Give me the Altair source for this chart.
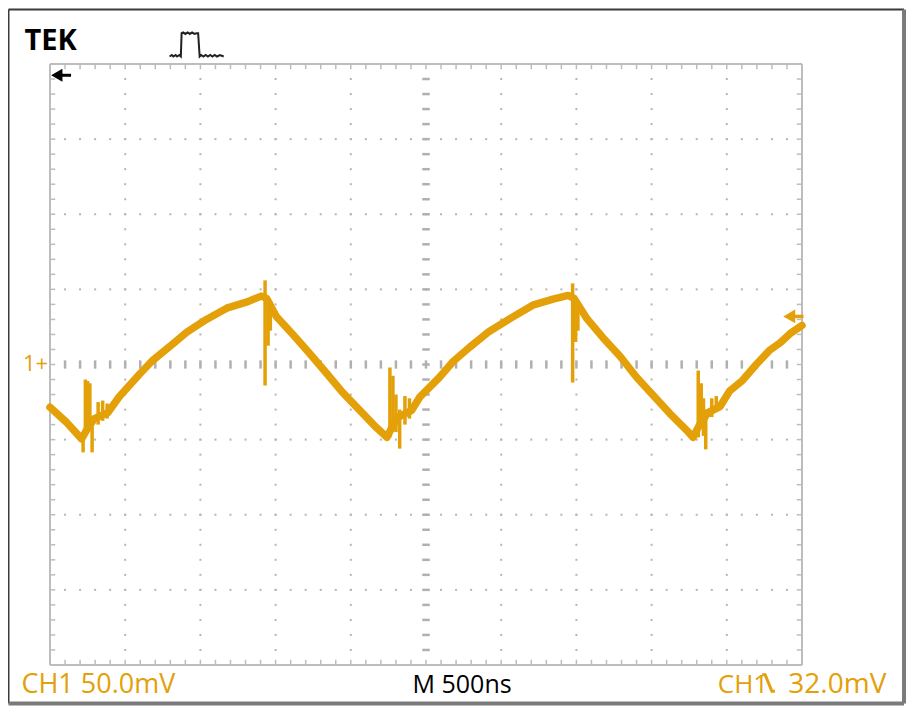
import altair as alt
import pandas as pd
import numpy as np

# ---- waveform (time in divisions 0..10 of 500 ns, voltage in divisions of 50 mV) ----
trace_t = [0.00, 0.21, 0.42, 0.50, 0.59, 0.77, 0.92, 1.19, 1.36, 1.63, 1.82, 2.08, 2.35, 2.61, 2.81, 2.88,
           3.01, 3.23, 3.45, 3.68, 3.89, 4.12, 4.34, 4.48, 4.56, 4.65, 4.81, 4.92, 5.18, 5.36, 5.58, 5.84,
           6.15, 6.42, 6.69, 6.89, 6.97, 7.14, 7.35, 7.58, 7.80, 8.02, 8.24, 8.47, 8.55, 8.64, 8.75, 8.91,
           9.04, 9.21, 9.40, 9.57, 9.71, 9.84, 10.00]
trace_v = [-0.57, -0.76, -0.99, -0.85, -0.72, -0.64, -0.43, -0.13, 0.05, 0.27, 0.43, 0.60, 0.75, 0.83, 0.91, 0.88,
           0.64, 0.40, 0.15, -0.12, -0.37, -0.61, -0.84, -0.97, -0.81, -0.69, -0.61, -0.43, -0.17, 0.04, 0.23, 0.44,
           0.63, 0.79, 0.87, 0.92, 0.88, 0.61, 0.36, 0.11, -0.17, -0.41, -0.65, -0.88, -0.97, -0.80, -0.64, -0.56,
           -0.35, -0.21, 0.01, 0.19, 0.29, 0.41, 0.52]

# switching glitches: time, top, bottom
glitch_t = [0.44, 0.47, 0.50, 0.53, 0.56, 0.64, 0.70, 0.76, 2.86, 2.90, 2.93, 4.52, 4.56, 4.60, 4.65, 4.72, 4.78,
            6.95, 6.99, 7.02, 8.62, 8.66, 8.69, 8.72, 8.80, 8.86]
glitch_top = [-0.99, -0.20, -0.22, -0.25, -0.70, -0.50, -0.48, -0.52, 1.12, 0.88, 0.80, -0.04, -0.15, -0.40,
              -0.60, -0.42, -0.45, 1.08, 0.90, 0.80, -0.08, -0.25, -0.45, -0.60, -0.45, -0.42]
glitch_bot = [-1.17, -0.90, -0.88, -0.85, -1.17, -0.80, -0.75, -0.72, -0.28, 0.25, 0.45, -0.97, -0.85, -0.90,
              -1.12, -0.80, -0.72, -0.24, 0.30, 0.45, -0.97, -0.85, -0.95, -1.13, -0.70, -0.62]

# pulse icon next to TEK
icon_t = [1.59, 1.62, 1.64, 1.67, 1.69, 1.72, 1.74, 1.75, 1.77, 1.80, 1.83, 1.86, 1.89, 1.92, 1.95, 1.97,
          1.99, 2.01, 2.04, 2.07, 2.10, 2.13, 2.16, 2.19, 2.22, 2.26, 2.31]
icon_v = [4.10, 4.12, 4.10, 4.12, 4.10, 4.12, 4.10, 4.41, 4.42, 4.40, 4.42, 4.40, 4.42, 4.40, 4.41, 4.41,
          4.10, 4.12, 4.10, 4.12, 4.10, 4.12, 4.10, 4.12, 4.10, 4.12, 4.10]

# trigger slope glyph
slope_t = [9.47, 9.51, 9.60, 9.64]
slope_v = [-4.13, -4.13, -4.35, -4.35]

ORANGE = "#E3A008"
GRID = "#bdbdbd"

X = alt.Scale(domain=[0, 10], nice=False, zero=False)
Y = alt.Scale(domain=[-4, 4], nice=False, zero=False)


def xe(f="t"):
    return alt.X(f, type="quantitative", scale=X, axis=None)


def ye(f="v"):
    return alt.Y(f, type="quantitative", scale=Y, axis=None)


def rules(df, color, width):
    return alt.Chart(df).mark_rule(color=color, strokeWidth=width).encode(
        x=xe("t"), x2="t2", y=ye("v"), y2="v2")


layers = []

# outer frame
fl, fr, ft, fb = -0.552, 11.357, 4.727, -4.514
layers.append(rules(pd.DataFrame({"t": [fl, fl], "t2": [fl, fr], "v": [fb, ft], "v2": [ft, ft]}), "#3a3a3a", 2))
layers.append(rules(pd.DataFrame({"t": [fr, fl], "t2": [fr, fr], "v": [fb, fb], "v2": [ft, fb]}), "#7a7a7a", 4))

# graticule border
layers.append(rules(pd.DataFrame({"t": [0, 10, 0, 0], "t2": [0, 10, 10, 10],
                                  "v": [-4, -4, 4, -4], "v2": [4, 4, 4, -4]}), GRID, 2))

# edge ticks
tt = np.round(np.arange(0.2, 9.9, 0.2), 2)
vv = np.round(np.arange(-3.8, 3.9, 0.2), 2)
edge = pd.concat([
    pd.DataFrame({"t": tt, "t2": tt, "v": 4.0, "v2": 3.93}),
    pd.DataFrame({"t": tt, "t2": tt, "v": -4.0, "v2": -3.93}),
    pd.DataFrame({"t": 0.0, "t2": 0.07, "v": vv, "v2": vv}),
    pd.DataFrame({"t": 10.0, "t2": 9.93, "v": vv, "v2": vv}),
])
layers.append(rules(edge, GRID, 1.5))

# dotted grid
dots = []
for g in [1, 2, 3, 4, 6, 7, 8, 9]:
    dots.append(pd.DataFrame({"t": g, "v": vv}))
for g in [-3, -2, -1, 1, 2, 3]:
    dots.append(pd.DataFrame({"t": tt, "v": g}))
dots = pd.concat(dots)
layers.append(alt.Chart(dots).mark_square(size=4, color="#b5b5b5", opacity=1).encode(x=xe(), y=ye()))

# centre lines with dashes
cv = pd.DataFrame({"t": 4.95, "t2": 5.05, "v": vv, "v2": vv})
ch = pd.DataFrame({"t": tt, "t2": tt, "v": -0.055, "v2": 0.055})
layers.append(rules(pd.concat([cv, ch]), "#b0b0b0", 2.5))

# waveform
wave = pd.DataFrame({"t": trace_t, "v": trace_v, "i": range(len(trace_t))})
layers.append(alt.Chart(wave).mark_line(color=ORANGE, strokeWidth=7.5, strokeJoin="round", strokeCap="round").encode(
    x=xe(), y=ye(), order="i:Q"))
gl = pd.DataFrame({"t": glitch_t, "t2": glitch_t, "v": glitch_top, "v2": glitch_bot})
layers.append(rules(gl, ORANGE, 3.5))

# markers: ground arrow (black, top-left) and trigger arrow (orange, right)
layers.append(rules(pd.DataFrame({"t": [0.1], "t2": [0.28], "v": [3.85], "v2": [3.85]}), "black", 3))
layers.append(alt.Chart(pd.DataFrame({"t": [0.09], "v": [3.85]})).mark_point(
    shape="triangle-left", filled=True, size=170, color="black", opacity=1).encode(x=xe(), y=ye()))
layers.append(rules(pd.DataFrame({"t": [9.85], "t2": [10.02], "v": [0.64], "v2": [0.64]}), ORANGE, 3.5))
layers.append(alt.Chart(pd.DataFrame({"t": [9.83], "v": [0.64]})).mark_point(
    shape="triangle-left", filled=True, size=190, color=ORANGE, opacity=1).encode(x=xe(), y=ye()))

# pulse icon
icon = pd.DataFrame({"t": icon_t, "v": icon_v, "i": range(len(icon_t))})
layers.append(alt.Chart(icon).mark_line(color="#222", strokeWidth=2).encode(x=xe(), y=ye(), order="i:Q"))

# slope glyph
sl = pd.DataFrame({"t": slope_t, "v": slope_v, "i": range(len(slope_t))})
layers.append(alt.Chart(sl).mark_line(color=ORANGE, strokeWidth=3).encode(x=xe(), y=ye(), order="i:Q"))

# texts
def txt(label, t, v, color, size, align="left", weight="normal", baseline="alphabetic"):
    return alt.Chart(pd.DataFrame({"t": [t], "v": [v], "s": [label]})).mark_text(
        color=color, fontSize=size, align=align, baseline=baseline, font="Open Sans", fontWeight=weight
    ).encode(x=xe(), y=ye(), text="s:N")

layers.append(txt("TEK", -0.34, 4.18, "black", 29, weight="bold"))
layers.append(txt("1+", -0.36, 0.01, ORANGE, 22, baseline="middle"))
layers.append(txt("CH1 50.0mV", -0.38, -4.367, ORANGE, 27))
layers.append(txt("M 500ns", 5.48, -4.367, "black", 25, align="center"))
layers.append(txt("CH1", 8.88, -4.367, ORANGE, 26))
layers.append(txt("32.0mV", 10.47, -4.367, ORANGE, 28, align="center"))

chart = alt.layer(*layers).properties(
    width=752, height=601,
    autosize=alt.AutoSizeParams(type="none"),
    padding={"left": 42, "top": 56, "right": 104, "bottom": 41},
    background="white",
).configure_view(strokeWidth=0)

chart.save("out.html", embed_options={"renderer": "svg", "actions": False})
